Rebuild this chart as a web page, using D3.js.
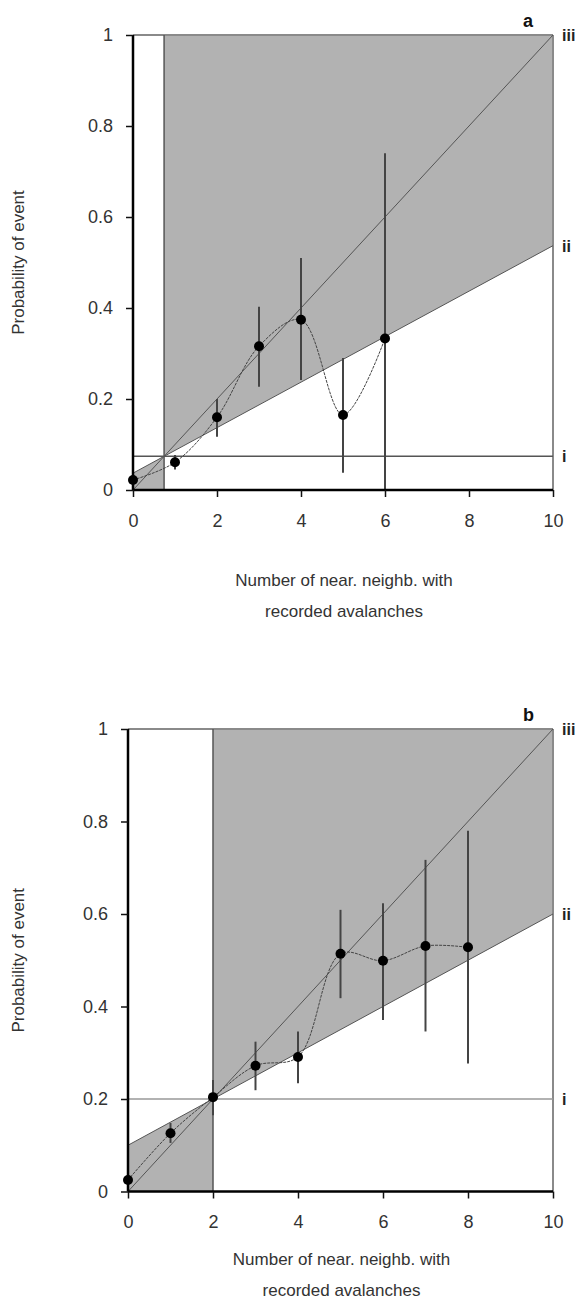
<!DOCTYPE html>
<html>
<head>
<meta charset="utf-8">
<script src="https://cdn.jsdelivr.net/npm/d3@7"></script>
<style>
  body { margin: 0; background: #fff; }
  svg { display: block; font-family: "Liberation Sans", Arial, sans-serif; }
</style>
</head>
<body>
<svg id="chart" width="586" height="1310"></svg>
<script>
// ---- data ----
var xTicks = [0, 2, 4, 6, 8, 10];
var yTicks = [0, 0.2, 0.4, 0.6, 0.8, 1];
var yTickLabels = ["0", "0.2", "0.4", "0.6", "0.8", "1"];

// panel a
var aX = [0, 1, 2, 3, 4, 5, 6];
var aP = [0.022, 0.061, 0.16, 0.316, 0.374, 0.165, 0.333];
var aLo = [0.022, 0.045, 0.117, 0.227, 0.242, 0.038, 0];
var aHi = [0.022, 0.077, 0.2, 0.403, 0.51, 0.29, 0.74];
var aLineI = 0.074;          // horizontal line i
var aLineII = [0.037, 0.05]; // intercept, slope of line ii
var aLineIII = [0, 0.1];     // intercept, slope of line iii

// panel b
var bX = [0, 1, 2, 3, 4, 5, 6, 7, 8];
var bP = [0.025, 0.126, 0.204, 0.272, 0.291, 0.514, 0.499, 0.531, 0.528];
var bLo = [0.025, 0.105, 0.165, 0.219, 0.234, 0.418, 0.371, 0.346, 0.277];
var bHi = [0.025, 0.148, 0.241, 0.324, 0.346, 0.609, 0.623, 0.717, 0.78];
var bLineI = 0.2;
var bLineII = [0.1, 0.05];
var bLineIII = [0, 0.1];

var svg = d3.select("svg#chart");

function drawPanel(opt){
  var x = d3.scaleLinear().domain([0, 10]).range([opt.left, opt.right]);
  var y = d3.scaleLinear().domain([0, 1]).range([opt.bottom, opt.top]);
  var g = svg.append("g");

  var ii = function(v){ return opt.lineII[0] + opt.lineII[1] * v; };
  var iii = function(v){ return opt.lineIII[0] + opt.lineIII[1] * v; };
  // crossing of line ii and line iii
  var xc = (opt.lineII[0] - opt.lineIII[0]) / (opt.lineIII[1] - opt.lineII[1]);

  // shaded regions
  var area = d3.area().x(d => x(d[0])).y0(d => y(d[1])).y1(d => y(d[2]));
  g.append("path")
    .attr("d", area([[0, 0, ii(0)], [xc, 0, ii(xc)]]))
    .attr("fill", "#b2b2b2");
  g.append("path")
    .attr("d", area([[xc, ii(xc), 1], [10, ii(10), 1]]))
    .attr("fill", "#b2b2b2");

  // frame top / right
  g.append("line")
    .attr("x1", x(0)).attr("x2", x(10)).attr("y1", y(1)).attr("y2", y(1))
    .attr("stroke", "#8a8a8a").attr("stroke-width", 2);
  g.append("line")
    .attr("x1", x(10)).attr("x2", x(10)).attr("y1", y(1)).attr("y2", y(0))
    .attr("stroke", "#8a8a8a").attr("stroke-width", 2);

  // vertical divider
  g.append("line")
    .attr("x1", x(xc)).attr("x2", x(xc)).attr("y1", y(1)).attr("y2", y(0))
    .attr("stroke", "#555").attr("stroke-width", 1.5);

  // line i
  g.append("line")
    .attr("x1", x(0)).attr("x2", x(10)).attr("y1", y(opt.lineI)).attr("y2", y(opt.lineI))
    .attr("stroke", opt.iColor).attr("stroke-width", 1.5);

  // lines ii and iii
  [ii, iii].forEach(function(f){
    g.append("line")
      .attr("x1", x(0)).attr("x2", x(10)).attr("y1", y(f(0))).attr("y2", y(f(10)))
      .attr("stroke", "#555").attr("stroke-width", 1);
  });

  var pts = opt.xs.map((v, i) => ({x: v, p: opt.p[i], lo: opt.lo[i], hi: opt.hi[i]}));

  // error bars
  g.selectAll("line.err").data(pts.filter(d => d.hi > d.lo)).enter().append("line")
    .attr("class", "err")
    .attr("x1", d => x(d.x)).attr("x2", d => x(d.x))
    .attr("y1", d => y(d.lo)).attr("y2", d => y(d.hi))
    .attr("stroke", "#444").attr("stroke-width", 2);

  // smoothed connecting curve
  var curve = d3.line().x(d => x(d.x)).y(d => y(d.p)).curve(d3.curveCatmullRom.alpha(0.5));
  g.append("path")
    .attr("d", curve(pts))
    .attr("fill", "none")
    .attr("stroke", "#444").attr("stroke-width", 1)
    .attr("stroke-dasharray", "3,1");

  // points
  g.selectAll("circle.pt").data(pts).enter().append("circle")
    .attr("class", "pt")
    .attr("cx", d => x(d.x)).attr("cy", d => y(d.p))
    .attr("r", 5).attr("fill", "#000");

  // axes
  var xAxis = d3.axisBottom(x).tickValues(xTicks).tickSize(7).tickPadding(17);
  var yAxis = d3.axisLeft(y).tickValues(yTicks).tickSize(7).tickPadding(13)
    .tickFormat((d, i) => yTickLabels[i]);

  var xa = g.append("g").attr("transform", "translate(0," + opt.bottom + ")").call(xAxis);
  var ya = g.append("g").attr("transform", "translate(" + opt.left + ",0)").call(yAxis);
  [xa, ya].forEach(function(a){
    a.select(".domain").attr("stroke", "#000").attr("stroke-width", 2.5);
    a.selectAll(".tick line").attr("stroke", "#111").attr("stroke-width", 1.5);
    a.selectAll(".tick text").attr("fill", "#333").style("font-size", "18px")
      .style("font-family", "'Liberation Sans', Arial, sans-serif");
  });
  // redraw domain lines without outer tick stubs
  xa.select(".domain").attr("d", "M" + opt.left + ",0H" + opt.right);
  ya.select(".domain").attr("d", "M0," + opt.top + "V" + opt.bottom);

  // roman numeral labels
  var rom = [["iii", iii(10)], ["ii", ii(10)], ["i", opt.lineI]];
  g.selectAll("text.rom").data(rom).enter().append("text")
    .attr("class", "rom")
    .attr("x", opt.right + 9)
    .attr("y", d => y(d[1]) + 6)
    .attr("font-size", 16).attr("font-weight", "bold").attr("fill", "#222")
    .text(d => d[0]);

  // panel letter
  g.append("text")
    .attr("x", opt.right - 30).attr("y", opt.top - 8)
    .attr("font-size", 18).attr("font-weight", "bold").attr("fill", "#111")
    .text(opt.letter);

  // axis titles
  var cx = (opt.left + opt.right) / 2 + 1;
  g.append("text")
    .attr("x", cx).attr("y", opt.bottom + opt.titleOff)
    .attr("text-anchor", "middle").attr("font-size", 17).attr("fill", "#333")
    .text("Number of near. neighb. with");
  g.append("text")
    .attr("x", cx).attr("y", opt.bottom + opt.titleOff + 31)
    .attr("text-anchor", "middle").attr("font-size", 17).attr("fill", "#333")
    .text("recorded avalanches");
  var cy = (opt.top + opt.bottom) / 2;
  g.append("text")
    .attr("transform", "translate(24," + cy + ") rotate(-90)")
    .attr("text-anchor", "middle").attr("font-size", 17).attr("fill", "#333")
    .text("Probability of event");
}

drawPanel({letter: "a", left: 133, right: 553, top: 35, bottom: 490, titleOff: 96,
  xs: aX, p: aP, lo: aLo, hi: aHi,
  lineI: aLineI, lineII: aLineII, lineIII: aLineIII, iColor: "#555"});

drawPanel({letter: "b", left: 128, right: 553, top: 729, bottom: 1191.5, titleOff: 73,
  xs: bX, p: bP, lo: bLo, hi: bHi,
  lineI: bLineI, lineII: bLineII, lineIII: bLineIII, iColor: "#999"});
</script>
</body>
</html>
